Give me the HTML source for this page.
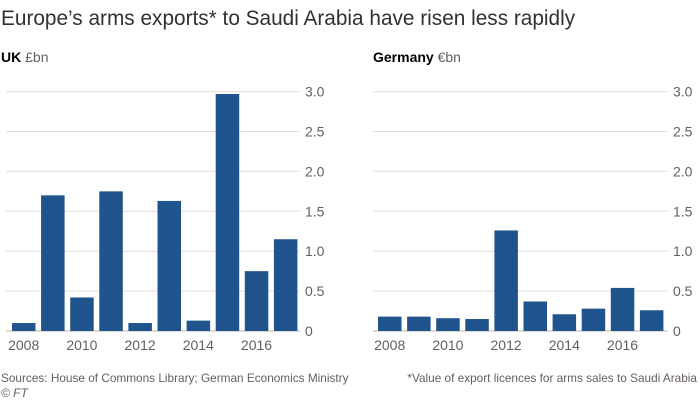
<!DOCTYPE html>
<html><head><meta charset="utf-8"><style>
body{margin:0;background:#fff;}
svg text{font-family:"Liberation Sans",sans-serif;}
</style></head><body>
<svg width="700" height="400" xmlns="http://www.w3.org/2000/svg">
<rect width="700" height="400" fill="#fff"/>
<text x="1" y="25" font-size="20.8" fill="#33302e">Europe’s arms exports* to Saudi Arabia have risen less rapidly</text>
<text x="1" y="62" font-size="14" fill="#000"><tspan font-weight="bold">UK</tspan><tspan fill="#66605c"> £bn</tspan></text>
<text x="373" y="62" font-size="14" fill="#000"><tspan font-weight="bold">Germany</tspan><tspan fill="#66605c"> €bn</tspan></text>
<g id="g"></g>
<text x="1" y="382" font-size="11.8" fill="#66605c">Sources: House of Commons Library; German Economics Ministry</text>
<text x="1" y="397" font-size="12" fill="#66605c" font-style="italic">© FT</text>
<text x="697" y="382" font-size="11.8" fill="#66605c" text-anchor="end">*Value of export licences for arms sales to Saudi Arabia</text>
</svg>
<script>
var g=document.getElementById('g'),s='';
function panel(x0,x1,lx,bx,vals){
 for(var i=0;i<=6;i++){var y=331-i*0.5*79.8;
  s+='<line x1="'+x0+'" x2="'+x1+'" y1="'+y+'" y2="'+y+'" stroke="'+(i==0?'#bdb5ad':'#e6dcd3')+'" stroke-width="1"/>';
  s+='<text x="'+lx+'" y="'+(y+5)+'" font-size="14" fill="#66605c">'+(i==0?'0':(i*0.5).toFixed(1))+'</text>';}
 vals.forEach(function(v,i){var h=v*79.8;s+='<rect x="'+(bx+i*29.1)+'" y="'+(331-h)+'" width="23.5" height="'+h+'" fill="#1f558c"/>';});
 for(var k=0;k<5;k++){s+='<text x="'+(bx+11.7+k*58.2)+'" y="350" font-size="14" fill="#66605c" text-anchor="middle">'+(2008+2*k)+'</text>';}
}
panel(6,300,305,12,[0.1,1.7,0.42,1.75,0.1,1.63,0.13,2.97,0.75,1.15]);
panel(373,668,673,378,[0.18,0.18,0.16,0.15,1.26,0.37,0.21,0.28,0.54,0.26]);
g.innerHTML=s;
</script>
</body></html>
